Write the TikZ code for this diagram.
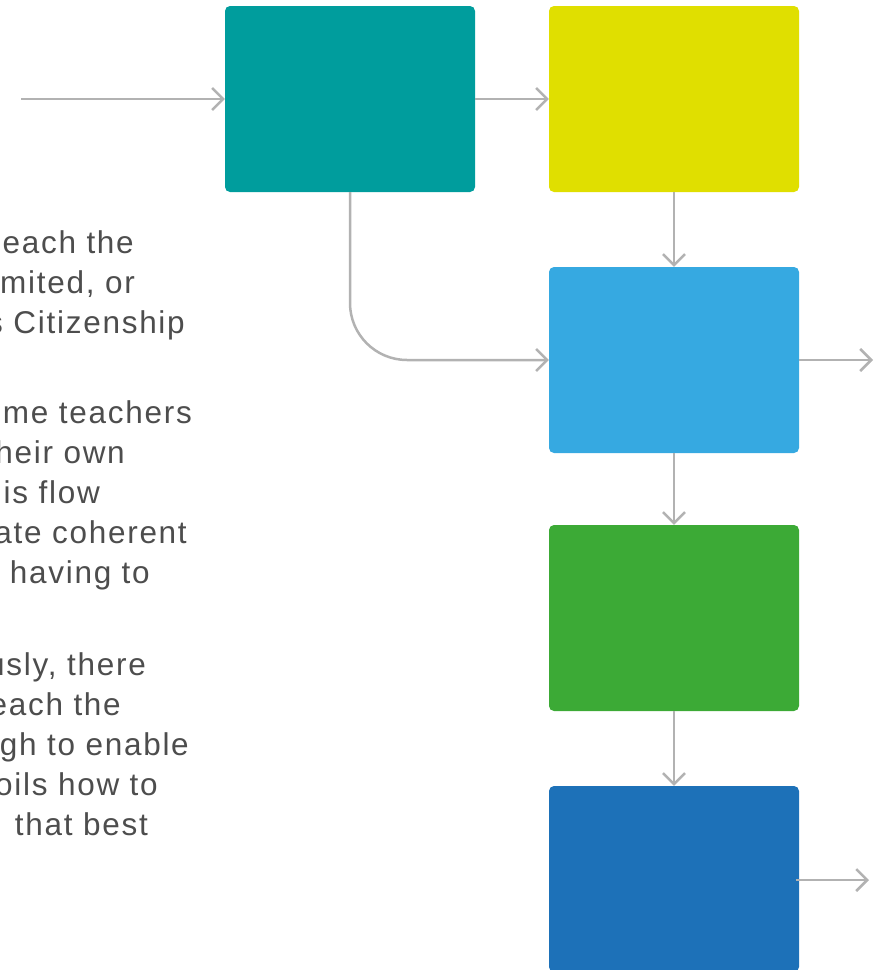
\documentclass[tikz,border=0pt]{standalone}
\usepackage{fontspec}
\setmainfont{Liberation Sans}[LetterSpace=5.5]
\usetikzlibrary{arrows.meta}
\definecolor{cteal}{RGB}{0,157,157}
\definecolor{cyellow}{RGB}{224,223,0}
\definecolor{clblue}{RGB}{54,169,225}
\definecolor{cgreen}{RGB}{60,170,54}
\definecolor{cdblue}{RGB}{29,113,184}
\definecolor{cline}{RGB}{178,178,178}
\definecolor{ctext}{RGB}{77,77,77}
\begin{document}
\begin{tikzpicture}[x=1pt,y=-1pt,
  box/.style={rectangle, rounded corners=5pt, minimum width=250pt, minimum height=186pt, inner sep=0pt, draw=none},
  conn/.style={draw=cline, line width=2.5pt, -{Straight Barb[length=11pt,width=22pt]}},
  txt/.style={anchor=base east, inner sep=0pt, text=ctext, font=\fontsize{31.5}{38}\selectfont}]
\useasboundingbox (0,0) rectangle (881,970);
\begin{scope}
\clip (0,0) rectangle (881,970);
\node[txt] (a1) at (134,253) {each the};
\node[txt] (a2) at (135,293) {mited, or};
\node[txt] (a3) at (185,333) {s Citizenship};
\node[txt] (b1) at (192,423) {me teachers};
\node[txt] (b2) at (125,463) {heir own};
\node[txt] (b3) at (100,503) {is flow};
\node[txt] (b4) at (187,543) {ate coherent};
\node[txt] (b5) at (150,583) {having to};
\node[txt] (c1) at (146,675) {usly, there};
\node[txt] (c2) at (121,715) {each the};
\node[txt] (c3) at (189,755) {gh to enable};
\node[txt] (c4) at (158,795) {oils how to};
\node[txt] (c5) at (148,835) {that best};
\node[box, fill=cteal] (teal) at (350,99) {};
\node[box, fill=cyellow] (yel) at (674,99) {};
\node[box, fill=clblue] (lb) at (674,360) {};
\node[box, fill=cgreen] (gr) at (674,618) {};
\node[box, fill=cdblue] (db) at (674,879) {};
\end{scope}
\coordinate (in) at (21,99);
\coordinate (out1) at (873,360);
\coordinate (dbs) at (796,880);
\coordinate (out2) at (869,880);
\draw[conn] (in) -- (teal.west);
\draw[conn] (teal.east) -- (yel.west);
\draw[conn] (yel.south) -- (lb.north);
\draw[conn, rounded corners=57pt] (teal.south) |- (lb.west);
\draw[conn] (lb.east) -- (out1);
\draw[conn] (lb.south) -- (gr.north);
\draw[conn] (gr.south) -- (db.north);
\draw[conn] (dbs) -- (out2);
\end{tikzpicture}
\end{document}
